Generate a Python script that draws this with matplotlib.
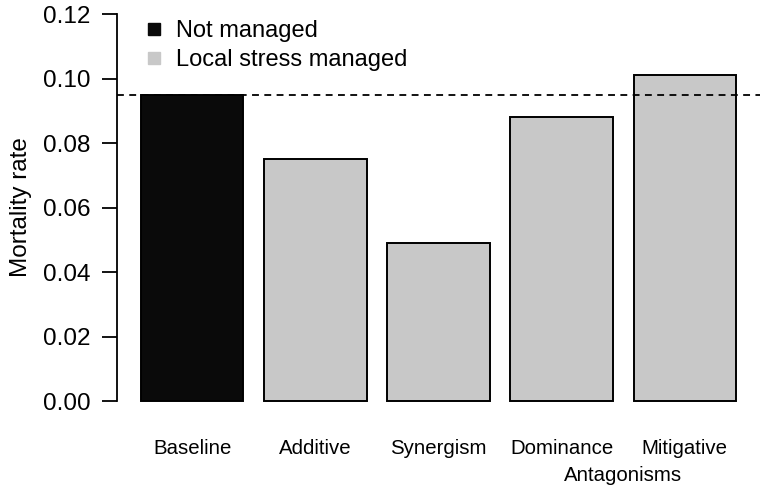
import matplotlib.pyplot as plt
from matplotlib.lines import Line2D

plt.rcParams['font.family'] = ['Liberation Sans', 'DejaVu Sans']

categories = ["Baseline", "Additive", "Synergism", "Dominance", "Mitigative"]
mortality = [0.095, 0.075, 0.049, 0.088, 0.101]
bar_colors = ["#0a0a0a", "#c8c8c8", "#c8c8c8", "#c8c8c8", "#c8c8c8"]
baseline_level = 0.095
yticks = [0.00, 0.02, 0.04, 0.06, 0.08, 0.10, 0.12]
legend_labels = ["Not managed", "Local stress managed"]
legend_colors = ["#0a0a0a", "#c8c8c8"]
group_label = "Antagonisms"


def main():
    fig = plt.figure(figsize=(7.61, 4.93), dpi=100)
    ax = fig.add_axes([0.1537, 0.155, 0.845, 0.848])

    # R-style barplot positions: width 1, space 0.2
    x = [0.2 + 1.2 * i + 0.5 for i in range(len(categories))]
    ax.bar(x, mortality, width=1.0, color=bar_colors, edgecolor="black",
           linewidth=1.4, zorder=2)
    ax.axhline(baseline_level, color="black", linewidth=1.3,
               linestyle=(0, (3.8, 3.0)), zorder=3)

    ax.set_xlim(-0.032, 6.232)
    ax.set_ylim(-0.0048, 0.1248)
    for s in ["top", "right", "bottom"]:
        ax.spines[s].set_visible(False)
    ax.spines["left"].set_bounds(0, 0.12)
    ax.spines["left"].set_linewidth(1.3)
    ax.set_yticks(yticks)
    ax.set_yticklabels([f"{v:.2f}" for v in yticks])
    ax.tick_params(axis="y", length=11, width=1.3, pad=8, labelsize=17.5)
    ax.set_xticks([])
    ax.set_ylabel("Mortality rate", fontsize=17.5, labelpad=8)

    for xi, lab in zip(x, categories):
        ax.text(xi, -0.0148, lab, ha="center", va="center", fontsize=14.7)
    ax.text((x[3] + x[4]) / 2, -0.0232, group_label, ha="center",
            va="center", fontsize=14.7)

    handles = [Line2D([], [], marker="s", linestyle="none", markersize=8,
                      markerfacecolor=c, markeredgecolor=c) for c in legend_colors]
    ax.legend(handles, legend_labels, loc="upper left", frameon=False,
              fontsize=17, bbox_to_anchor=(0.0135, 0.988), handlelength=1.0,
              handletextpad=0.45, labelspacing=0.3, borderaxespad=0.3)

    fig.savefig("out.png", dpi=100)


if __name__ == "__main__":
    main()
